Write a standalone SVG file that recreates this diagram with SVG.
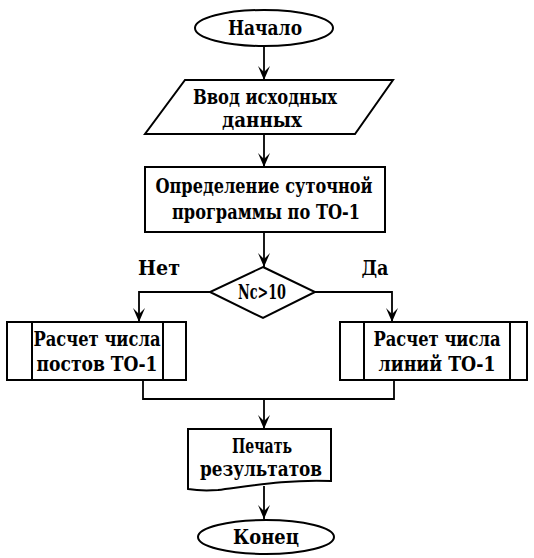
<svg xmlns="http://www.w3.org/2000/svg" width="534" height="558" viewBox="0 0 534 558">
<style>
.s{fill:#fff;stroke:#000;stroke-width:2}
.c{fill:none;stroke:#000;stroke-width:1.8}
.t{font-family:"DejaVu Serif","Liberation Serif",serif;font-weight:bold;font-size:20px;fill:#000;text-anchor:middle}
</style>
<defs>
<marker id="a" markerWidth="14" markerHeight="12" refX="14" refY="6" orient="auto" markerUnits="userSpaceOnUse">
<path d="M0,0 L14,6 L0,12 L6,6 Z" fill="#000"/>
</marker>
</defs>
<rect width="534" height="558" fill="#fff"/>
<g id="connectors">
<line class="c" x1="264" y1="46" x2="264" y2="80" marker-end="url(#a)"/>
<line class="c" x1="264" y1="134" x2="264" y2="167" marker-end="url(#a)"/>
<line class="c" x1="264" y1="232" x2="264" y2="267" marker-end="url(#a)"/>
<polyline class="c" points="210,292 139,292 139,322" marker-end="url(#a)"/>
<polyline class="c" points="315,292 392,292 392,322" marker-end="url(#a)"/>
<polyline class="c" points="143,380 143,399 394,399 394,380"/>
<line class="c" x1="264" y1="399" x2="264" y2="429" marker-end="url(#a)"/>
<line class="c" x1="264" y1="486" x2="264" y2="519" marker-end="url(#a)"/>
<text class="t" x="159" y="275" textLength="42" lengthAdjust="spacingAndGlyphs">Нет</text>
<text class="t" x="375" y="275" textLength="27" lengthAdjust="spacingAndGlyphs">Да</text>
</g>
<g id="start">
<ellipse class="s" cx="264" cy="28" rx="69" ry="18"/>
<text class="t" x="265" y="35" textLength="74" lengthAdjust="spacingAndGlyphs">Начало</text>
</g>
<g id="input">
<polygon class="s" points="185,80 393,80 355,134 145,134"/>
<text class="t" x="265" y="104" textLength="144" lengthAdjust="spacingAndGlyphs">Ввод исходных</text>
<text class="t" x="262" y="127" textLength="80" lengthAdjust="spacingAndGlyphs">данных</text>
</g>
<g id="daily">
<rect class="s" x="145" y="167" width="240" height="65"/>
<text class="t" x="264" y="193" textLength="217" lengthAdjust="spacingAndGlyphs">Определение суточной</text>
<text class="t" x="266" y="219" textLength="188" lengthAdjust="spacingAndGlyphs">программы по ТО-1</text>
</g>
<g id="decision">
<polygon class="s" points="263,267 315,292 263,318 210,292"/>
<text class="t" x="262" y="299" textLength="48" lengthAdjust="spacingAndGlyphs">Nc&gt;10</text>
</g>
<g id="posts">
<rect class="s" x="7" y="322" width="179" height="58"/>
<line class="s" x1="32" y1="322" x2="32" y2="380"/>
<line class="s" x1="163" y1="322" x2="163" y2="380"/>
<text class="t" x="97" y="346" textLength="127" lengthAdjust="spacingAndGlyphs">Расчет числа</text>
<text class="t" x="97" y="371" textLength="121" lengthAdjust="spacingAndGlyphs">постов ТО-1</text>
</g>
<g id="lines">
<rect class="s" x="340" y="322" width="187" height="58"/>
<line class="s" x1="364" y1="322" x2="364" y2="380"/>
<line class="s" x1="510" y1="322" x2="510" y2="380"/>
<text class="t" x="437" y="346" textLength="127" lengthAdjust="spacingAndGlyphs">Расчет числа</text>
<text class="t" x="437" y="371" textLength="117" lengthAdjust="spacingAndGlyphs">линий ТО-1</text>
</g>
<g id="print">
<path class="s" d="M188,429 L331,429 L331,481 C290,479 250,486 218,490 C204,491 194,490 188,489 Z"/>
<text class="t" x="262" y="453" textLength="60" lengthAdjust="spacingAndGlyphs">Печать</text>
<text class="t" x="261" y="476" textLength="122" lengthAdjust="spacingAndGlyphs">результатов</text>
</g>
<g id="end">
<ellipse class="s" cx="266" cy="537" rx="68" ry="17"/>
<text class="t" x="266" y="544" textLength="66" lengthAdjust="spacingAndGlyphs">Конец</text>
</g>
</svg>
